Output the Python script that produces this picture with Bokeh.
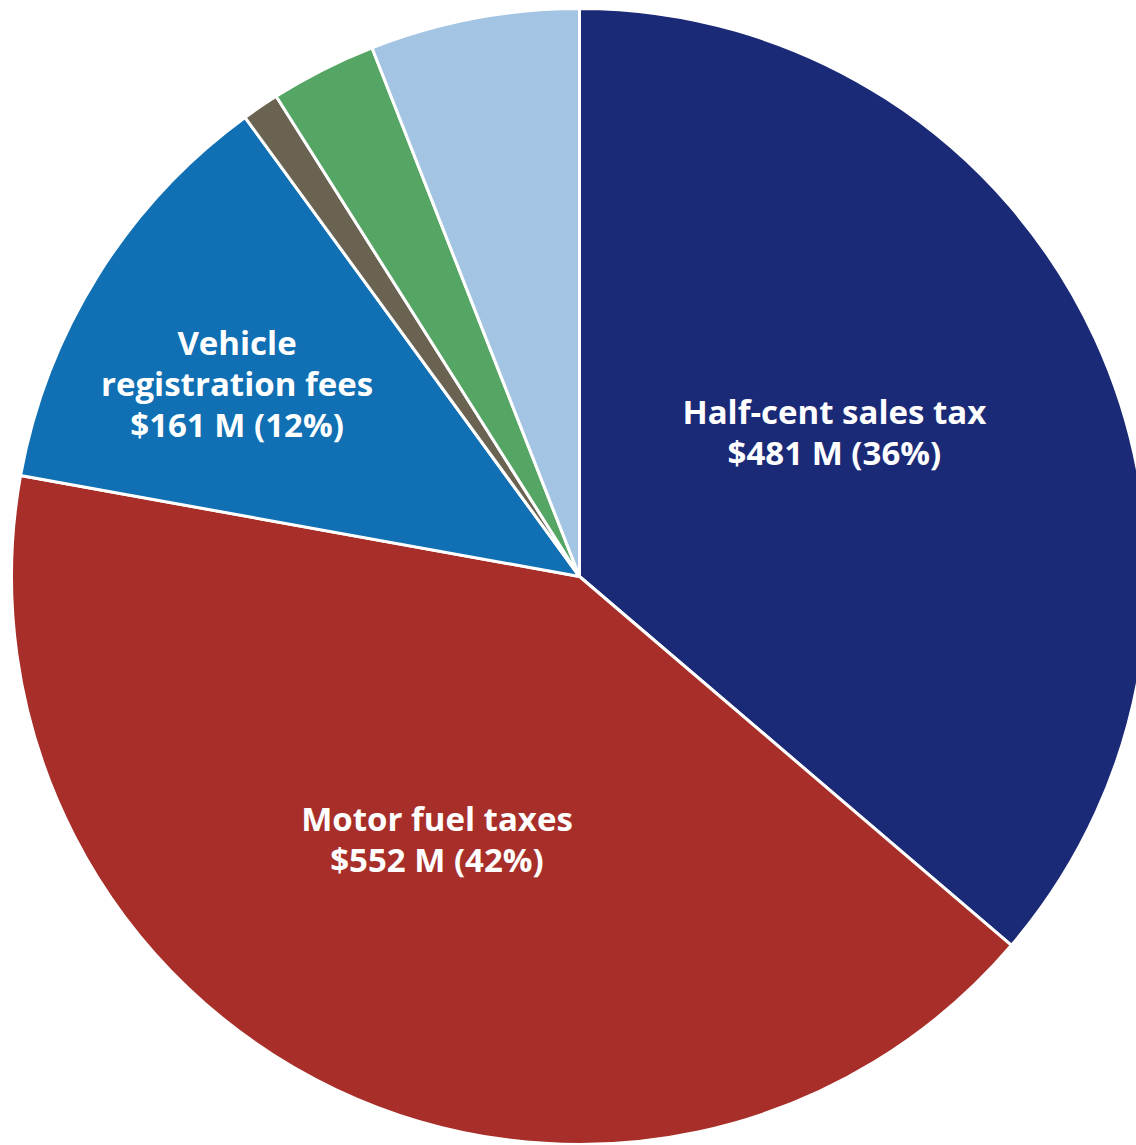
import math
from bokeh.plotting import figure
from bokeh.models import Range1d, ColumnDataSource
from bokeh.core.properties import value
from bokeh.embed import file_html
from bokeh.resources import INLINE

# ---- data ----
categories = ["Half-cent sales tax", "Motor fuel taxes", "Vehicle registration fees",
              "Other (brown)", "Other (green)", "Other (light blue)"]
amounts = [481, 552, 161, 14, 40, 79]          # $ millions
label_names = ["Half-cent sales tax", "Motor fuel taxes", "Vehicle\nregistration fees", "", "", ""]
colors = ["#1B2A77", "#A82F29", "#1070B3", "#6B6352", "#55A664", "#A3C4E2"]

# ---- layout / style ----
W, H = 1136, 1145
cx, cy, R = 579, H - 576, 568
label_r = [293, 299, 393, 0, 0, 0]            # radial distance of label centre
label_dtheta = [-4.8, 3.1, -2.7, 0, 0, 0]      # degrees offset from mid-angle (clockwise)

total = sum(amounts)
starts, ends, lx, ly, ltext = [], [], [], [], []
cum = 0.0
for i, v in enumerate(amounts):
    a0 = math.pi / 2 - 2 * math.pi * cum / total
    cum += v
    a1 = math.pi / 2 - 2 * math.pi * cum / total
    starts.append(a0)
    ends.append(a1)
    if label_names[i]:
        mid = (a0 + a1) / 2 - math.radians(label_dtheta[i])
        lx.append(cx + label_r[i] * math.cos(mid))
        ly.append(cy + label_r[i] * math.sin(mid))
        pct = round(v / total * 100)
        ltext.append(f"{label_names[i]}\n${v} M ({pct}%)")

src = ColumnDataSource(dict(start=starts, end=ends, color=colors, cat=categories,
                            x=[cx] * len(amounts), y=[cy] * len(amounts)))
lsrc = ColumnDataSource(dict(x=lx, y=ly, text=ltext))

p = figure(width=W, height=H, x_range=Range1d(0, W), y_range=Range1d(0, H),
           output_backend="svg", toolbar_location=None, min_border=0,
           background_fill_color="white", border_fill_color="white")
p.axis.visible = False
p.grid.visible = False
p.outline_line_color = None

p.wedge(x="x", y="y", radius=R, start_angle="start", end_angle="end", direction="clock",
        fill_color="color", line_color="white", line_width=3, source=src)

p.text(x="x", y="y", text="text", source=lsrc, text_color="white",
       text_font=value("Open Sans"), text_font_style="bold", text_font_size="33px",
       text_align="center", text_baseline="middle", text_line_height=0.91)

open("out.html", "w").write(file_html(p, INLINE))
